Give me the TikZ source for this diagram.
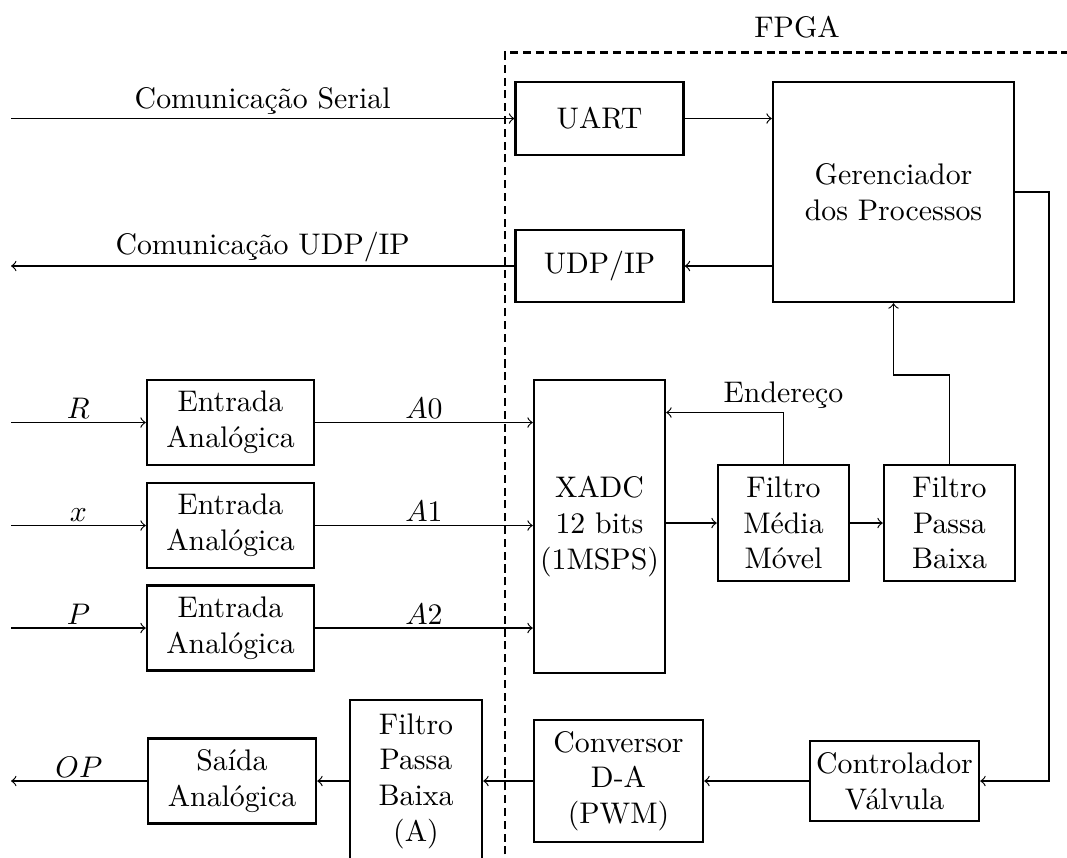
\documentclass[tikz,border=0pt]{standalone}
\usepackage{fontspec}
\usetikzlibrary{calc}
% one drawing unit
\def\pxu{0.3356pt}
\tikzset{
  blk/.style={draw, thick, align=center, inner sep=1pt},
  wh/.style 2 args={minimum width=#1*\pxu, minimum height=#2*\pxu},
  wire/.style={->},
  lbl/.style={above, inner sep=1pt},
  fence/.style={thick, dash pattern=on 2.7pt off 1.6pt},
}
\begin{document}
\begin{tikzpicture}[x=\pxu, y=-\pxu]
\clip (0,0) rectangle (1067,857);

% FPGA boundary
\draw[fence] (505,880) -- (505,52.5) -- (1090,52.5);
\node (fpga) at (797,27) {FPGA};

% blocks
\node[blk, wh={168}{73}]  (uart) at (599.5,118.5) {UART};
\node[blk, wh={168}{72}]  (udp)  at (599.5,266)   {UDP/IP};
\node[blk, wh={241}{220}] (ger)  at (893.5,192)   {Gerenciador\\dos Processos};
\node[blk, wh={167}{85}]  (ea)   at (230.5,422.5) {Entrada\\Analógica};
\node[blk, wh={167}{85}]  (eb)   at (230.5,525.5) {Entrada\\Analógica};
\node[blk, wh={167}{85}]  (ec)   at (230.5,628)   {Entrada\\Analógica};
\node[blk, wh={131}{293}] (xadc) at (599.5,526.5) {XADC\\12 bits\\(1MSPS)};
\node[blk, wh={131}{116}] (mm)   at (783.5,523)   {Filtro\\Média\\Móvel};
\node[blk, wh={131}{116}] (pb)   at (949.5,523)   {Filtro\\Passa\\Baixa};
\node[blk, wh={169}{80}]  (ctl)  at (894.5,781)   {Controlador\\Válvula};
\node[blk, wh={169}{122}] (da)   at (618.5,781)   {Conversor\\D-A\\(PWM)};
\node[blk, wh={132}{162}] (pba)  at (416,781)     {Filtro\\Passa\\Baixa\\(A)};
\node[blk, wh={168}{85}]  (out)  at (232,781)     {Saída\\Analógica};

% free ends and corners
\coordinate (inS)  at (11,118.5);
\coordinate (outU) at (11,266);
\coordinate (inR)  at (11,422.5);
\coordinate (inX)  at (11,525.5);
\coordinate (inP)  at (11,628);
\coordinate (outO) at (11,781);
\coordinate (ek)   at (783.5,412.5);
\coordinate (pk)   at (949.5,375);
\coordinate (rk)   at (1049,192);

% communication
\draw[wire] (inS) -- node[lbl] {Comunicação Serial} (uart.west);
\draw[wire] (udp.west) -- node[lbl] {Comunicação UDP/IP} (outU);
\draw[wire] (uart.east) -- (uart.east -| ger.west);
\draw[wire] (udp.east -| ger.west) -- (udp.east);

% analog inputs
\draw[wire] (inR) -- node[lbl] {$R$} (ea.west);
\draw[wire] (inX) -- node[lbl] {$x$} (eb.west);
\draw[wire] (inP) -- node[lbl] {$P$} (ec.west);
\draw[wire] (ea.east) -- node[lbl] {$A0$} (ea.east -| xadc.west);
\draw[wire] (eb.east) -- node[lbl] {$A1$} (eb.east -| xadc.west);
\draw[wire] (ec.east) -- node[lbl] {$A2$} (ec.east -| xadc.west);

% acquisition chain
\draw[wire] (mm.west -| xadc.east) -- (mm.west);
\draw[wire] (mm.east) -- (pb.west);
\draw[wire] (mm.north) -- (ek) -- (ek -| xadc.east);
\node[lbl] (endr) at (ek) {Endereço};
\draw[wire] (pb.north) -- (pk) -- (pk -| ger.south) -- (ger.south);

% output chain
\draw[wire] (ger.east) -- (rk) |- (ctl.east);
\draw[wire] (ctl.west) -- (da.east);
\draw[wire] (da.west) -- (pba.east);
\draw[wire] (pba.west) -- (out.east);
\draw[wire] (out.west) -- node[lbl] {$OP$} (outO);
\end{tikzpicture}
\end{document}
